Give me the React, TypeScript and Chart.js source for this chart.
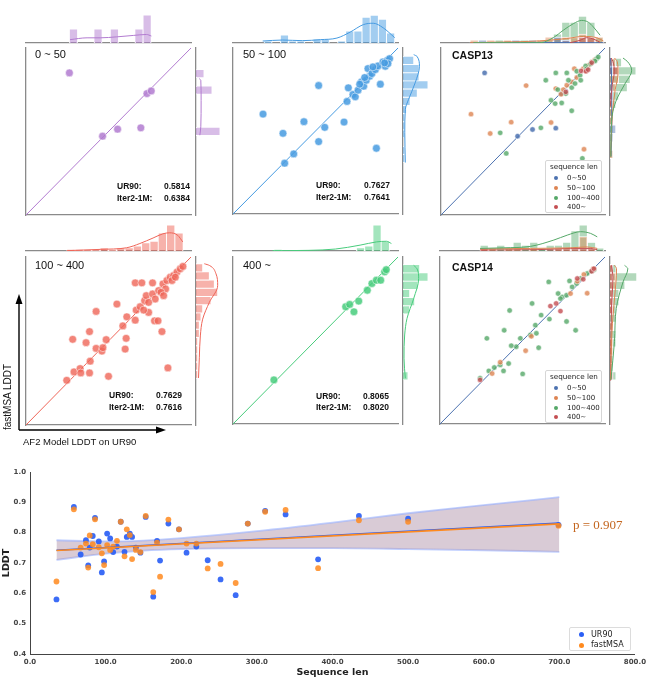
import React, { useEffect, useRef } from 'react';
import { Chart, registerables } from 'chart.js';
Chart.register(...registerables);

// ---------------- DATA ----------------
// Panel 0~50
const p1X = [0.263, 0.464, 0.555, 0.696, 0.733, 0.759];
const p1Y = [0.851, 0.472, 0.514, 0.522, 0.727, 0.743];
const p1TopCounts = [1, 0, 0, 1, 0, 1, 0, 0, 1, 2];
const p1TopKdePos = [0.267, 0.37, 0.45, 0.55, 0.65, 0.73, 0.76];
const p1TopKdeVal = [0.24, 0.37, 0.37, 0.44, 0.54, 0.61, 0.5];
const p1RightCounts = [3, 0, 0, 0, 0, 2, 0, 1];
const p1RightKdePos = [0.478, 0.528, 0.687, 0.807, 0.817];
const p1RightKdeVal = [0.48, 0.6, 0.64, 0.6, 0.4];

// Panel 50~100
const p2X = [0.182, 0.303, 0.313, 0.368, 0.430, 0.519, 0.519, 0.556, 0.673, 0.691, 0.699, 0.727, 0.741, 0.758, 0.778, 0.792, 0.808, 0.818, 0.828, 0.842, 0.863, 0.869, 0.893, 0.879, 0.909, 0.923, 0.935, 0.949, 0.939, 0.919, 0.768, 0.798, 0.848];
const p2Y = [0.602, 0.486, 0.306, 0.362, 0.556, 0.774, 0.436, 0.522, 0.554, 0.678, 0.760, 0.720, 0.706, 0.746, 0.796, 0.770, 0.806, 0.876, 0.830, 0.846, 0.870, 0.396, 0.782, 0.892, 0.916, 0.890, 0.926, 0.936, 0.906, 0.910, 0.782, 0.822, 0.886];
const p2TopCounts = [1, 0, 4, 1, 1, 0, 2, 2, 0, 1, 6, 6, 13, 14, 12, 5];
const p2TopKdePos = [0.18, 0.30, 0.42, 0.53, 0.63, 0.71, 0.79, 0.85, 0.91, 0.98];
const p2TopKdeVal = [1, 1.5, 1.2, 1.7, 2.5, 5.5, 9.3, 10, 7.7, 2.7];
const p2RightCounts = [1, 1, 0, 1, 1, 1, 2, 4, 8, 14, 9, 9, 6];
const p2RightKdePos = [0.31, 0.49, 0.63, 0.69, 0.79, 0.89, 0.95, 0.96];
const p2RightKdeVal = [1.3, 1, 1.3, 3.1, 6.8, 9.2, 7.8, 6];

// CASP13
const c13BlueX = [0.266, 0.467, 0.558, 0.700, 0.733, 0.759];
const c13BlueY = [0.851, 0.472, 0.512, 0.520, 0.727, 0.743];
const c13OrangeX = [0.183, 0.300, 0.428, 0.519, 0.671, 0.872, 0.813, 0.700, 0.732, 0.746, 0.767, 0.797, 0.828, 0.868, 0.899, 0.919, 0.939, 0.884];
const c13OrangeY = [0.604, 0.488, 0.556, 0.775, 0.554, 0.394, 0.876, 0.757, 0.723, 0.751, 0.777, 0.797, 0.823, 0.876, 0.896, 0.916, 0.930, 0.863];
const c13GreenX = [0.361, 0.398, 0.609, 0.639, 0.700, 0.767, 0.797, 0.862, 0.671, 0.696, 0.736, 0.712, 0.761, 0.797, 0.817, 0.848, 0.882, 0.913, 0.949, 0.939, 0.777, 0.828, 0.852, 0.888, 0.959];
const c13GreenY = [0.492, 0.369, 0.522, 0.807, 0.851, 0.851, 0.624, 0.339, 0.687, 0.667, 0.671, 0.751, 0.727, 0.763, 0.787, 0.837, 0.892, 0.906, 0.936, 0.922, 0.807, 0.861, 0.807, 0.876, 0.946];
const c13RedX = [0.761, 0.854, 0.884, 0.919, 0.897];
const c13RedY = [0.737, 0.863, 0.861, 0.912, 0.870];
const c13TopGreen = [0, 0, 0, 1, 1, 0, 1, 0, 1, 1, 3, 7, 7, 9, 7, 2];
const c13TopOrange = [1, 0, 1, 0, 1, 1, 0, 0, 1, 2, 2, 2, 2, 3, 2, 2];
const c13TopRed = [0, 0, 0, 0, 0, 0, 0, 0, 0, 0, 0, 1, 0, 2, 2, 0];
const c13TopBlue = [0, 1, 0, 0, 0, 1, 0, 1, 0, 0, 2, 1, 0, 0, 0, 0];
const c13TopKdeGreenPos = [0.197, 0.604, 0.685, 0.746, 0.807, 0.858, 0.898, 0.929, 0.970];
const c13TopKdeGreenVal = [0.1, 0.1, 1.8, 4.3, 6.5, 7.6, 7.0, 5.4, 2.6];
const c13TopKdeOrangePos = [0.177, 0.6, 0.766, 0.868, 0.949, 0.99];
const c13TopKdeOrangeVal = [0.1, 0.7, 1.5, 2.2, 1.8, 0.7];
const c13TopKdeRedPos = [0.787, 0.848, 0.888, 0.939, 0.97];
const c13TopKdeRedVal = [0.1, 0.9, 1.8, 1.1, 0.2];
const c13TopKdeBluePos = [0.177, 0.5, 0.99];
const c13TopKdeBlueVal = [0.15, 0.2, 0.1];
const c13RightGreen = [1, 0, 0, 1, 1, 1, 2, 3, 6, 7, 9, 4];
const c13RightOrange = [1, 0, 0, 0, 1, 1, 1, 1, 2, 3, 3, 2];
const c13RightRed = [0, 0, 0, 0, 0, 0, 0, 1, 0, 0, 3, 1];
const c13RightBlue = [0, 0, 1, 2, 0, 0, 0, 1, 1, 0, 1, 0];
const c13RightKdeGreenPos = [0.35, 0.5, 0.62, 0.7, 0.78, 0.867, 0.92, 0.94];
const c13RightKdeGreenVal = [0.3, 0.4, 1, 2.5, 5, 7.5, 6, 4.5];
const c13RightKdeOrangePos = [0.35, 0.6, 0.75, 0.85, 0.92, 0.94];
const c13RightKdeOrangeVal = [0.2, 0.8, 1.8, 2.8, 2.5, 1.5];
const c13RightKdeRedPos = [0.65, 0.78, 0.86, 0.92, 0.94];
const c13RightKdeRedVal = [0.1, 0.8, 1.5, 1, 0.4];
const c13RightKdeBluePos = [0.35, 0.5, 0.7, 0.85, 0.94];
const c13RightKdeBlueVal = [0.3, 0.6, 0.6, 0.5, 0.2];

// Panel 100~400
const p4X = [0.247, 0.283, 0.291, 0.328, 0.332, 0.364, 0.385, 0.385, 0.389, 0.425, 0.425, 0.460, 0.466, 0.486, 0.500, 0.551, 0.587, 0.601, 0.607, 0.611, 0.662, 0.668, 0.662, 0.702, 0.692, 0.719, 0.729, 0.743, 0.767, 0.767, 0.779, 0.800, 0.824, 0.804, 0.830, 0.854, 0.860, 0.874, 0.895, 0.915, 0.935, 0.951, 0.846, 0.783, 0.743, 0.713, 0.885, 0.905, 0.818, 0.834];
const p4Y = [0.266, 0.510, 0.316, 0.336, 0.310, 0.490, 0.556, 0.310, 0.380, 0.676, 0.456, 0.440, 0.460, 0.508, 0.290, 0.720, 0.590, 0.452, 0.516, 0.644, 0.624, 0.684, 0.846, 0.846, 0.704, 0.740, 0.770, 0.670, 0.780, 0.846, 0.620, 0.620, 0.556, 0.800, 0.840, 0.860, 0.340, 0.880, 0.890, 0.910, 0.930, 0.944, 0.810, 0.750, 0.730, 0.684, 0.860, 0.880, 0.790, 0.770];
const p4TopCounts = [1, 1, 1, 1, 2, 1, 2, 2, 3, 5, 6, 11, 16, 11];
const p4TopKdePos = [0.247, 0.45, 0.61, 0.69, 0.77, 0.83, 0.87, 0.92, 0.95];
const p4TopKdeVal = [0.2, 1, 2, 4.6, 8, 10.6, 11.2, 9.6, 5.6];
const p4RightCounts = [1, 1, 1, 1, 1, 2, 2, 3, 4, 9, 13, 11, 8, 4];
const p4RightKdePos = [0.28, 0.4, 0.53, 0.63, 0.73, 0.83, 0.9, 0.95, 0.96];
const p4RightKdeVal = [1.5, 2, 2.6, 4, 8, 13, 12, 8, 5];

// Panel 400~
const p5X = [0.248, 0.683, 0.707, 0.733, 0.762, 0.814, 0.842, 0.869, 0.895, 0.919, 0.929];
const p5Y = [0.264, 0.702, 0.716, 0.672, 0.736, 0.801, 0.841, 0.861, 0.861, 0.911, 0.924];
const p5TopCounts = [1, 0, 0, 0, 0, 0, 0, 0, 0, 0, 2, 3, 16, 6];
const p5TopKdePos = [0.24, 0.46, 0.62, 0.77, 0.87, 0.93, 0.96];
const p5TopKdeVal = [0.2, 0.4, 1.2, 3.6, 5.6, 6, 4.6];
const p5RightCounts = [3, 0, 0, 0, 0, 0, 0, 0, 4, 7, 4, 9, 15, 10];
const p5RightKdePos = [0.274, 0.394, 0.533, 0.632, 0.751, 0.871, 0.93, 0.95];
const p5RightKdeVal = [1.4, 0.6, 1, 2.4, 6.4, 9.4, 8.4, 6.4];

// CASP14
const c14GreenX = [0.659, 0.558, 0.422, 0.284, 0.389, 0.487, 0.462, 0.432, 0.598, 0.501, 0.385, 0.243, 0.296, 0.329, 0.416, 0.578, 0.584, 0.613, 0.663, 0.767, 0.822, 0.716, 0.740, 0.785, 0.801, 0.828, 0.767, 0.852, 0.892, 0.917, 0.933, 0.730, 0.548, 0.365];
const c14GreenY = [0.851, 0.722, 0.680, 0.513, 0.561, 0.513, 0.463, 0.469, 0.457, 0.300, 0.318, 0.274, 0.318, 0.338, 0.362, 0.592, 0.543, 0.652, 0.628, 0.614, 0.561, 0.781, 0.761, 0.857, 0.821, 0.841, 0.771, 0.871, 0.901, 0.915, 0.924, 0.751, 0.533, 0.354];
const c14OrangeX = [0.554, 0.519, 0.365, 0.316, 0.892, 0.791, 0.832, 0.872, 0.929];
const c14OrangeY = [0.525, 0.439, 0.370, 0.302, 0.783, 0.781, 0.855, 0.895, 0.930];
const c14RedX = [0.243, 0.669, 0.704, 0.730, 0.832, 0.868, 0.919, 0.933];
const c14RedY = [0.264, 0.706, 0.722, 0.676, 0.871, 0.867, 0.915, 0.930];
const c14TopGreen = [2, 1, 2, 1, 3, 2, 3, 1, 2, 2, 3, 7, 9, 3, 1];
const c14TopOrange = [1, 1, 0, 1, 1, 0, 1, 0, 0, 1, 1, 1, 5, 1, 0];
const c14TopRed = [1, 0, 0, 0, 0, 0, 0, 0, 1, 1, 1, 1, 1, 1, 0];
const c14TopKdeGreenPos = [0.243, 0.385, 0.548, 0.69, 0.771, 0.852, 0.913, 0.953];
const c14TopKdeGreenVal = [0.9, 1.1, 1.6, 3.8, 5.5, 6.7, 6.1, 4.9];
const c14TopKdeOrangePos = [0.243, 0.548, 0.791, 0.892, 0.953];
const c14TopKdeOrangeVal = [0.7, 0.9, 1.1, 1.4, 0.9];
const c14TopKdeRedPos = [0.243, 0.588, 0.79, 0.91, 0.953];
const c14TopKdeRedVal = [0.35, 0.45, 0.9, 0.9, 0.45];
const c14RightGreen = [2, 1, 1, 1, 2, 2, 1, 2, 2, 3, 3, 5, 9, 2];
const c14RightOrange = [1, 0, 0, 1, 1, 0, 1, 0, 1, 1, 1, 2, 2, 1];
const c14RightRed = [1, 0, 0, 0, 0, 0, 0, 0, 1, 1, 1, 1, 1, 1];
const c14RightKdeGreenPos = [0.264, 0.493, 0.692, 0.851, 0.93, 0.95];
const c14RightKdeGreenVal = [0.3, 1.5, 2.1, 4.4, 6, 4.9];
const c14RightKdeOrangePos = [0.264, 0.6, 0.85, 0.93, 0.95];
const c14RightKdeOrangeVal = [0.2, 0.8, 2, 2.2, 1.5];
const c14RightKdeRedPos = [0.26, 0.7, 0.88, 0.95];
const c14RightKdeRedVal = [0.2, 0.5, 1, 0.5];

const hueLabels = ['0~50', '50~100', '100~400', '400~'];

// Bottom chart
const seqLen = [35, 58, 67, 74, 77, 79, 83, 86, 91, 95, 98, 102, 106, 110, 115, 120, 125, 128, 132, 135, 140, 146, 153, 163, 168, 172, 183, 197, 207, 220, 235, 252, 272, 288, 311, 338, 381, 435, 500, 699];
const ur90 = [0.580, 0.885, 0.728, 0.775, 0.692, 0.751, 0.789, 0.849, 0.771, 0.669, 0.705, 0.797, 0.781, 0.736, 0.754, 0.836, 0.737, 0.786, 0.797, 0.786, 0.751, 0.734, 0.852, 0.589, 0.773, 0.708, 0.830, 0.811, 0.734, 0.754, 0.709, 0.646, 0.594, 0.830, 0.872, 0.860, 0.712, 0.855, 0.846, 0.826];
const fastMSA = [0.639, 0.877, 0.751, 0.764, 0.685, 0.791, 0.762, 0.844, 0.752, 0.732, 0.693, 0.759, 0.743, 0.754, 0.773, 0.836, 0.722, 0.811, 0.792, 0.713, 0.743, 0.736, 0.855, 0.604, 0.767, 0.655, 0.843, 0.811, 0.764, 0.764, 0.682, 0.697, 0.634, 0.830, 0.869, 0.875, 0.683, 0.841, 0.836, 0.823];
const regX = [35, 700];
const regUR90 = [0.742, 0.832];
const regFast = [0.741, 0.829];
const bandX = [35, 100, 150, 200, 300, 400, 500, 600, 700];
const bandLow = [0.710, 0.731, 0.741, 0.746, 0.749, 0.749, 0.746, 0.742, 0.737];
const bandHigh = [0.775, 0.771, 0.774, 0.782, 0.805, 0.833, 0.864, 0.891, 0.917];
const xTickStep = 100;
const yTickStep = 0.1;

// ---------------- HELPERS ----------------
const zip = (xs: number[], ys: number[]) => xs.map((x, i) => ({ x, y: ys[i] }));
const binsH = (start: number, w: number, c: number[]) => c.map((v, i) => ({ x: start + (i + 0.5) * w, y: v }));
const binsV = (start: number, w: number, c: number[]) => c.map((v, i) => ({ y: start + (i + 0.5) * w, x: v }));

const PAD = 2;
const SPINE = '#8a8a8a';
const SANS = '"Liberation Sans", Arial, sans-serif';
const DJ = '"DejaVu Sans", sans-serif';

const C_BLUE = '#4c72b0', C_ORANGE = '#dd8452', C_GREEN = '#55a868', C_RED = '#c44e52';
const a = (hex: string, al: number) => {
  const n = parseInt(hex.slice(1), 16);
  return `rgba(${(n >> 16) & 255},${(n >> 8) & 255},${n & 255},${al})`;
};

const spineAxis = (extra: any) => ({
  type: 'linear', offset: false,
  ticks: { display: false },
  grid: { display: false, drawTicks: false, tickLength: 0 },
  border: { display: true, color: SPINE, width: 1.3 },
  ...extra,
});

const baseOpts = (scales: any, extra: any = {}) => ({
  animation: false, responsive: false, events: [],
  layout: { padding: PAD, autoPadding: false },
  plugins: { legend: { display: false }, tooltip: { enabled: false } },
  scales,
  ...extra,
});

type Grp = { xs: number[]; ys: number[]; color: string; r: number };
type Layer = { counts: number[]; color: string };
type Kde = { pos: number[]; val: number[]; color: string };

function mainCfg(groups: Grp[], diag: string) {
  return {
    type: 'scatter',
    data: {
      datasets: [
        { data: [{ x: 0, y: 0 }, { x: 1, y: 1 }], showLine: true, borderColor: diag, borderWidth: 1, pointRadius: 0, order: 20 },
        ...groups.map((g, i) => ({
          data: zip(g.xs, g.ys), backgroundColor: g.color, borderColor: 'rgba(255,255,255,0.85)',
          borderWidth: 0.6, pointRadius: g.r, order: 10 - i,
        })),
      ],
    },
    options: baseOpts({ x: spineAxis({ min: 0, max: 1, position: 'bottom' }), y: spineAxis({ min: 0, max: 1, position: 'left' }) }),
  };
}

function topCfg(start: number, w: number, layers: Layer[], kdes: Kde[], max: number) {
  return {
    type: 'bar',
    data: {
      datasets: [
        ...kdes.map((k) => ({ type: 'line', data: zip(k.pos, k.val), borderColor: k.color, borderWidth: 1, pointRadius: 0, cubicInterpolationMode: 'monotone', order: 0 })),
        ...layers.map((l, i) => ({
          type: 'bar', data: binsH(start, w, l.counts), backgroundColor: l.color, borderColor: '#ffffff',
          borderWidth: 0.8, barPercentage: 1, categoryPercentage: 1, grouped: false, order: 10 - i,
        })),
      ],
    },
    options: baseOpts({ x: spineAxis({ min: 0, max: 1, position: 'bottom' }), y: { type: 'linear', display: false, min: 0, max } }),
  };
}

function rightCfg(start: number, w: number, layers: Layer[], kdes: Kde[], max: number) {
  return {
    type: 'bar',
    data: {
      datasets: [
        ...kdes.map((k) => ({ type: 'line', indexAxis: 'y', data: zip(k.val, k.pos), borderColor: k.color, borderWidth: 1, pointRadius: 0, cubicInterpolationMode: 'monotone', order: 0 })),
        ...layers.map((l, i) => ({
          type: 'bar', data: binsV(start, w, l.counts), backgroundColor: l.color, borderColor: '#ffffff',
          borderWidth: 0.8, barPercentage: 1, categoryPercentage: 1, grouped: false, order: 10 - i,
        })),
      ],
    },
    options: baseOpts(
      { y: spineAxis({ min: 0, max: 1, position: 'left' }), x: { type: 'linear', display: false, min: 0, max } },
      { indexAxis: 'y' }
    ),
  };
}

function ChartBox({ x, y, w, h, config }: any) {
  const ref = useRef<HTMLCanvasElement>(null);
  useEffect(() => {
    const chart = new Chart(ref.current as HTMLCanvasElement, config);
    return () => chart.destroy();
  }, []);
  return <canvas ref={ref} width={w} height={h} style={{ position: 'absolute', left: x, top: y, width: w, height: h }} />;
}

function Joint({ mx, my, mw, mh, topH, gap, main, top, right }: any) {
  const rw = 30;
  return (
    <>
      <ChartBox x={mx - PAD} y={my - gap - topH - PAD} w={mw + 2 * PAD} h={topH + 2 * PAD} config={top} />
      <ChartBox x={mx + mw + 5 - PAD} y={my - PAD} w={rw + 2 * PAD} h={mh + 2 * PAD} config={right} />
      <ChartBox x={mx - PAD} y={my - PAD} w={mw + 2 * PAD} h={mh + 2 * PAD} config={main} />
    </>
  );
}

function T({ x, y, children, size = 11, weight = 'normal', family = SANS, color = '#111', style = {} }: any) {
  return (
    <div style={{ position: 'absolute', left: x, top: y, transform: 'translateY(-50%)', fontFamily: family, fontSize: size, fontWeight: weight, color, whiteSpace: 'nowrap', lineHeight: 1, ...style }}>
      {children}
    </div>
  );
}

function Stats({ l, r, y1, y2, v1, v2 }: any) {
  const row = (y: number, lab: string, v: string) => (
    <div style={{ position: 'absolute', left: l, width: r - l, top: y, transform: 'translateY(-50%)', display: 'flex', justifyContent: 'space-between', fontFamily: SANS, fontWeight: 'bold', fontSize: 8.5, color: '#111', lineHeight: 1, whiteSpace: 'nowrap' }}>
      <span>{lab}</span><span>{v}</span>
    </div>
  );
  return <>{row(y1, 'UR90:', v1)}{row(y2, 'Iter2-1M:', v2)}</>;
}

function HueLegend({ x, y }: any) {
  const cols = [C_BLUE, C_ORANGE, C_GREEN, C_RED];
  const ys = [17, 26.5, 36.5, 46];
  return (
    <div style={{ position: 'absolute', left: x, top: y, width: 57, height: 53, border: '1px solid #d6d6d6', borderRadius: 2, background: 'rgba(255,255,255,0.85)', boxSizing: 'border-box' }}>
      <div style={{ position: 'absolute', left: 4, top: 6, transform: 'translateY(-50%)', fontFamily: DJ, fontSize: 7.2, color: '#222', whiteSpace: 'nowrap', lineHeight: 1 }}>sequence len</div>
      {hueLabels.map((lab, i) => (
        <React.Fragment key={lab}>
          <div style={{ position: 'absolute', left: 8, top: ys[i] - 2, width: 4, height: 4, borderRadius: 2, background: cols[i] }} />
          <div style={{ position: 'absolute', left: 21, top: ys[i], transform: 'translateY(-50%)', fontFamily: DJ, fontSize: 7, color: '#222', whiteSpace: 'nowrap', lineHeight: 1 }}>{lab}</div>
        </React.Fragment>
      ))}
    </div>
  );
}

// ---------------- CONFIGS ----------------
const PURPLE = '#b27bd0', BLUE2 = '#469be1', RED4 = '#ef6558', GREEN5 = '#48cc7c';
const R_BIG = 3.9, R_CASP = 2.7;

const cfgP1 = {
  main: mainCfg([{ xs: p1X, ys: p1Y, color: a(PURPLE, 0.85), r: R_BIG }], PURPLE),
  top: topCfg(0.263, 0.0496, [{ counts: p1TopCounts, color: a(PURPLE, 0.5) }], [{ pos: p1TopKdePos, val: p1TopKdeVal, color: PURPLE }], 2.36),
  right: rightCfg(0.4755, 0.0495, [{ counts: p1RightCounts, color: a(PURPLE, 0.5) }], [{ pos: p1RightKdePos, val: p1RightKdeVal, color: PURPLE }], 3.75),
};
const cfgP2 = {
  main: mainCfg([{ xs: p2X, ys: p2Y, color: a(BLUE2, 0.85), r: R_BIG }], BLUE2),
  top: topCfg(0.188, 0.0495, [{ counts: p2TopCounts, color: a(BLUE2, 0.5) }], [{ pos: p2TopKdePos, val: p2TopKdeVal, color: BLUE2 }], 16.7),
  right: rightCfg(0.31, 0.0492, [{ counts: p2RightCounts, color: a(BLUE2, 0.5) }], [{ pos: p2RightKdePos, val: p2RightKdeVal, color: BLUE2 }], 16.8),
};
const cfgP3 = {
  main: mainCfg([
    { xs: c13BlueX, ys: c13BlueY, color: a(C_BLUE, 0.85), r: R_CASP },
    { xs: c13OrangeX, ys: c13OrangeY, color: a(C_ORANGE, 0.8), r: R_CASP },
    { xs: c13GreenX, ys: c13GreenY, color: a(C_GREEN, 0.8), r: R_CASP },
    { xs: c13RedX, ys: c13RedY, color: a(C_RED, 0.8), r: R_CASP },
  ], C_BLUE),
  top: topCfg(0.177, 0.0508, [
    { counts: c13TopGreen, color: a(C_GREEN, 0.45) },
    { counts: c13TopOrange, color: a(C_ORANGE, 0.45) },
    { counts: c13TopRed, color: a(C_RED, 0.45) },
    { counts: c13TopBlue, color: a(C_BLUE, 0.45) },
  ], [
    { pos: c13TopKdeGreenPos, val: c13TopKdeGreenVal, color: C_GREEN },
    { pos: c13TopKdeOrangePos, val: c13TopKdeOrangeVal, color: C_ORANGE },
    { pos: c13TopKdeRedPos, val: c13TopKdeRedVal, color: C_RED },
    { pos: c13TopKdeBluePos, val: c13TopKdeBlueVal, color: C_BLUE },
  ], 11.1),
  right: rightCfg(0.338, 0.05, [
    { counts: c13RightGreen, color: a(C_GREEN, 0.45) },
    { counts: c13RightOrange, color: a(C_ORANGE, 0.45) },
    { counts: c13RightRed, color: a(C_RED, 0.45) },
    { counts: c13RightBlue, color: a(C_BLUE, 0.45) },
  ], [
    { pos: c13RightKdeGreenPos, val: c13RightKdeGreenVal, color: C_GREEN },
    { pos: c13RightKdeOrangePos, val: c13RightKdeOrangeVal, color: C_ORANGE },
    { pos: c13RightKdeRedPos, val: c13RightKdeRedVal, color: C_RED },
    { pos: c13RightKdeBluePos, val: c13RightKdeBlueVal, color: C_BLUE },
  ], 10.4),
};
const cfgP4 = {
  main: mainCfg([{ xs: p4X, ys: p4Y, color: a(RED4, 0.8), r: R_BIG }], RED4),
  top: topCfg(0.247, 0.0504, [{ counts: p4TopCounts, color: a(RED4, 0.5) }], [{ pos: p4TopKdePos, val: p4TopKdeVal, color: RED4 }], 19.7),
  right: rightCfg(0.277, 0.0488, [{ counts: p4RightCounts, color: a(RED4, 0.5) }], [{ pos: p4RightKdePos, val: p4RightKdeVal, color: RED4 }], 18),
};
const cfgP5 = {
  main: mainCfg([{ xs: p5X, ys: p5Y, color: a(GREEN5, 0.85), r: R_BIG }], GREEN5),
  top: topCfg(0.248, 0.05, [{ counts: p5TopCounts, color: a(GREEN5, 0.5) }], [{ pos: p5TopKdePos, val: p5TopKdeVal, color: GREEN5 }], 19.7),
  right: rightCfg(0.264, 0.0493, [{ counts: p5RightCounts, color: a(GREEN5, 0.5) }], [{ pos: p5RightKdePos, val: p5RightKdeVal, color: GREEN5 }], 18),
};
const cfgP6 = {
  main: mainCfg([
    { xs: c14GreenX, ys: c14GreenY, color: a(C_GREEN, 0.8), r: R_CASP },
    { xs: c14OrangeX, ys: c14OrangeY, color: a(C_ORANGE, 0.8), r: R_CASP },
    { xs: c14RedX, ys: c14RedY, color: a(C_RED, 0.8), r: R_CASP },
  ], C_BLUE),
  top: topCfg(0.243, 0.05, [
    { counts: c14TopGreen, color: a(C_GREEN, 0.45) },
    { counts: c14TopOrange, color: a(C_ORANGE, 0.45) },
    { counts: c14TopRed, color: a(C_RED, 0.45) },
  ], [
    { pos: c14TopKdeGreenPos, val: c14TopKdeGreenVal, color: C_GREEN },
    { pos: c14TopKdeOrangePos, val: c14TopKdeOrangeVal, color: C_ORANGE },
    { pos: c14TopKdeRedPos, val: c14TopKdeRedVal, color: C_RED },
  ], 11.1),
  right: rightCfg(0.264, 0.0493, [
    { counts: c14RightGreen, color: a(C_GREEN, 0.45) },
    { counts: c14RightOrange, color: a(C_ORANGE, 0.45) },
    { counts: c14RightRed, color: a(C_RED, 0.45) },
  ], [
    { pos: c14RightKdeGreenPos, val: c14RightKdeGreenVal, color: C_GREEN },
    { pos: c14RightKdeOrangePos, val: c14RightKdeOrangeVal, color: C_ORANGE },
    { pos: c14RightKdeRedPos, val: c14RightKdeRedVal, color: C_RED },
  ], 10.1),
};

const BLUE_PT = '#2b5ff5', ORANGE_PT = '#ff8a1e';
const tickFont = { family: 'DejaVu Sans', weight: 'bold', size: 7 };
const titleFont = { family: 'DejaVu Sans', weight: 'bold', size: 9.5 };

const bottomCfg = {
  type: 'scatter',
  data: {
    datasets: [
      { label: 'low', data: zip(bandX, bandLow), showLine: true, pointRadius: 0, borderColor: 'rgba(150,175,255,0.6)', borderWidth: 1.8, fill: false, cubicInterpolationMode: 'monotone', order: 20 },
      { label: 'high', data: zip(bandX, bandHigh), showLine: true, pointRadius: 0, borderColor: 'rgba(150,175,255,0.6)', borderWidth: 1.8, fill: '-1', backgroundColor: 'rgba(176,146,170,0.48)', cubicInterpolationMode: 'monotone', order: 19 },
      { label: 'UR90', data: zip(seqLen, ur90), backgroundColor: a(BLUE_PT, 0.92), borderWidth: 0, pointRadius: 2.9, order: 8 },
      { label: 'fastMSA', data: zip(seqLen, fastMSA), backgroundColor: a(ORANGE_PT, 0.85), borderWidth: 0, pointRadius: 2.9, order: 7 },
      { label: 'regU', data: zip(regX, regUR90), showLine: true, pointRadius: 0, borderColor: BLUE_PT, borderWidth: 1.6, order: 3 },
      { label: 'regF', data: zip(regX, regFast), showLine: true, pointRadius: 0, borderColor: ORANGE_PT, borderWidth: 1.6, order: 2 },
    ],
  },
  options: {
    animation: false, responsive: false, events: [],
    layout: { padding: { left: 0, right: 15, top: 12, bottom: 0 }, autoPadding: false },
    plugins: { legend: { display: false }, tooltip: { enabled: false } },
    scales: {
      x: {
        type: 'linear', min: 0, max: 800,
        afterFit: (s: any) => { s.height = 37; },
        ticks: { stepSize: xTickStep, callback: (v: any) => Number(v).toFixed(1), font: tickFont, color: '#444', padding: 4, maxRotation: 0, autoSkip: false },
        grid: { display: false, drawTicks: false },
        border: { display: true, color: '#444', width: 1 },
        title: { display: true, text: 'Sequence len', font: titleFont, color: '#222', padding: { top: 0, bottom: 13 } },
      },
      y: {
        type: 'linear', min: 0.4, max: 1.0,
        afterFit: (s: any) => { s.width = 30; },
        ticks: { stepSize: yTickStep, callback: (v: any) => Number(v).toFixed(1), font: tickFont, color: '#444', padding: 4 },
        grid: { display: false, drawTicks: false },
        border: { display: true, color: '#444', width: 1 },
        title: { display: true, text: 'LDDT', font: titleFont, color: '#222', padding: { top: 1, bottom: 0 } },
      },
    },
  },
};

// ---------------- APP ----------------
export default function App() {
  return (
    <div style={{ position: 'absolute', left: 0, top: 0, width: 650, height: 691, background: '#fff', overflow: 'hidden' }}>
      <Joint mx={26} my={48} mw={165} mh={167} topH={33} gap={5} {...cfgP1} />
      <Joint mx={233} my={48} mw={165} mh={166} topH={33} gap={5} {...cfgP2} />
      <Joint mx={441} my={48} mw={164} mh={167} topH={33} gap={5} {...cfgP3} />
      <Joint mx={26} my={257} mw={165} mh={168} topH={32} gap={6} {...cfgP4} />
      <Joint mx={233} my={257} mw={165} mh={167} topH={32} gap={6} {...cfgP5} />
      <Joint mx={440} my={257} mw={165} mh={167} topH={32} gap={6} {...cfgP6} />

      <T x={35} y={54}>0 ~ 50</T>
      <T x={243} y={54}>50 ~ 100</T>
      <T x={452} y={55} size={10.5} weight="bold">CASP13</T>
      <T x={35} y={265}>100 ~ 400</T>
      <T x={243} y={265}>400 ~</T>
      <T x={452} y={267} size={10.5} weight="bold">CASP14</T>

      <Stats l={117} r={190} y1={186} y2={198} v1="0.5814" v2="0.6384" />
      <Stats l={316} r={390} y1={185} y2={197} v1="0.7627" v2="0.7641" />
      <Stats l={109} r={182} y1={395} y2={407} v1="0.7629" v2="0.7616" />
      <Stats l={316} r={389} y1={396} y2={407} v1="0.8065" v2="0.8020" />

      <HueLegend x={545} y={160} />
      <HueLegend x={545} y={370} />

      <svg width={650} height={691} style={{ position: 'absolute', left: 0, top: 0, pointerEvents: 'none' }}>
        <line x1={19} y1={430} x2={19} y2={302} stroke="#000" strokeWidth={1.4} />
        <polygon points="19,294 15.5,304 22.5,304" fill="#000" />
        <line x1={19} y1={430} x2={158} y2={430} stroke="#000" strokeWidth={1.4} />
        <polygon points="166,430 156,426.5 156,433.5" fill="#000" />
      </svg>
      <div style={{ position: 'absolute', left: 8, top: 397, transform: 'translate(-50%,-50%) rotate(-90deg)', fontFamily: SANS, fontSize: 10, color: '#111', whiteSpace: 'nowrap', lineHeight: 1 }}>fastMSA LDDT</div>
      <T x={23} y={442} size={9.5}>AF2 Model LDDT on UR90</T>

      <ChartBox x={0} y={460} w={650} h={231} config={bottomCfg} />
      <T x={573} y={524} size={13} family={'"Liberation Serif", "DejaVu Serif", serif'} color="#c4661f">p = 0.907</T>
      <div style={{ position: 'absolute', left: 569, top: 627, width: 62, height: 24, border: '1px solid #dcdcdc', borderRadius: 2, background: 'rgba(255,255,255,0.9)', boxSizing: 'border-box' }}>
        <div style={{ position: 'absolute', left: 9, top: 4, width: 5, height: 5, borderRadius: 3, background: BLUE_PT }} />
        <div style={{ position: 'absolute', left: 21, top: 6.5, transform: 'translateY(-50%)', fontFamily: DJ, fontSize: 8, color: '#222', lineHeight: 1, whiteSpace: 'nowrap' }}>UR90</div>
        <div style={{ position: 'absolute', left: 9, top: 14.5, width: 5, height: 5, borderRadius: 3, background: ORANGE_PT }} />
        <div style={{ position: 'absolute', left: 21, top: 17, transform: 'translateY(-50%)', fontFamily: DJ, fontSize: 8, color: '#222', lineHeight: 1, whiteSpace: 'nowrap' }}>fastMSA</div>
      </div>
    </div>
  );
}
